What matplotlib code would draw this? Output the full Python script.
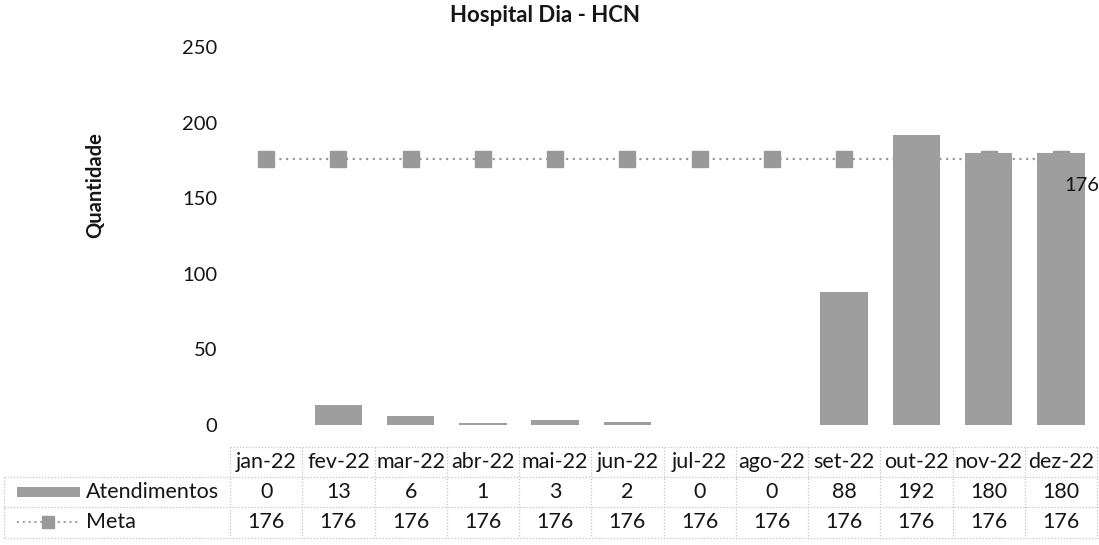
import matplotlib
matplotlib.use('Agg')
import matplotlib.pyplot as plt
from matplotlib.lines import Line2D
from matplotlib.patches import Rectangle

plt.rcParams['font.family'] = ['Lato', 'DejaVu Sans']

# dados
meses = ['jan-22', 'fev-22', 'mar-22', 'abr-22', 'mai-22', 'jun-22',
         'jul-22', 'ago-22', 'set-22', 'out-22', 'nov-22', 'dez-22']
atendimentos = [0, 13, 6, 1, 3, 2, 0, 0, 88, 192, 180, 180]
meta = [176] * 12

W, H = 1099, 545
fig = plt.figure(figsize=(W / 100, H / 100), dpi=100)
fig.patch.set_facecolor('white')

# área do gráfico (em pixels da imagem)
x0, x1 = 230, 1097
y_top, y_zero = 47, 425
ax = fig.add_axes([x0 / W, 1 - y_zero / H, (x1 - x0) / W, (y_zero - y_top) / H])

x = list(range(len(meses)))
cor_barra = '#9e9e9e'
cor_meta = '#999999'
cor_texto = '#151515'

ax.bar(x, atendimentos, width=0.66, color=cor_barra, zorder=3)
ax.plot(x, meta, linestyle=(0, (1, 2)), color=cor_meta, linewidth=1.6,
        marker='s', markersize=11, markerfacecolor=cor_meta,
        markeredgecolor=cor_meta, zorder=2)
ax.annotate(str(meta[-1]), (x[-1], meta[-1]), xytext=(15, -19),
            textcoords='offset points', ha='center', va='center',
            fontsize=14.5, color=cor_texto, zorder=4)

ax.set_xlim(-0.5, len(meses) - 0.5)
ax.set_ylim(0, 250)
ax.set_yticks([0, 50, 100, 150, 200, 250])
ax.tick_params(axis='y', length=0, pad=9, labelsize=14.5, labelcolor=cor_texto)
ax.set_xticks([])
for s in ax.spines.values():
    s.set_visible(False)

def fy(py):
    return 1 - py / H

def fx(px):
    return px / W

fig.text(fx(95), fy(185), 'Quantidade', rotation=90, ha='center', va='center',
         fontsize=14.5, fontweight='bold', color=cor_texto)
fig.text(fx(545), fy(16), 'Hospital Dia - HCN', ha='center', va='center',
         fontsize=16, fontweight='bold', color=cor_texto)

# tabela de dados
trans = ax.get_xaxis_transform()
def ay(py):
    return (y_zero - py) / (y_zero - y_top)

cor_grade = '#c4c4c4'
grade = dict(color=cor_grade, linewidth=0.9, linestyle=(0, (1, 1.5)))

# linhas horizontais
fig.add_artist(Line2D([fx(x0), fx(W)], [fy(447), fy(447)], **grade))
for py in (477, 507, 538):
    fig.add_artist(Line2D([fx(4), fx(W)], [fy(py), fy(py)], **grade))
# linhas verticais
for k in range(len(meses) + 1):
    ax.add_artist(Line2D([k - 0.5, k - 0.5], [ay(447), ay(538)],
                         transform=trans, clip_on=False, **grade))
fig.add_artist(Line2D([fx(4), fx(4)], [fy(477), fy(538)], **grade))

fs_tab = 15.5
for i, m in enumerate(meses):
    ax.text(i, ay(462), m, transform=trans, ha='center', va='center',
            fontsize=fs_tab, color=cor_texto, clip_on=False)
    ax.text(i, ay(492), str(atendimentos[i]), transform=trans, ha='center',
            va='center', fontsize=fs_tab, color=cor_texto, clip_on=False)
    ax.text(i, ay(522), str(meta[i]), transform=trans, ha='center',
            va='center', fontsize=fs_tab, color=cor_texto, clip_on=False)

# chaves da legenda
fig.add_artist(Rectangle((fx(17), fy(497)), fx(80) - fx(17), fy(487) - fy(497),
                         facecolor=cor_barra, edgecolor='none'))
fig.add_artist(Line2D([fx(17), fx(80)], [fy(522), fy(522)], color=cor_meta,
                      linewidth=1.4, linestyle=(0, (1, 2))))
fig.add_artist(Line2D([fx(48)], [fy(522)], marker='s', markersize=9,
                      color=cor_meta, linestyle='none'))
fig.text(fx(86), fy(492), 'Atendimentos', ha='left', va='center',
         fontsize=fs_tab, color=cor_texto)
fig.text(fx(86), fy(522), 'Meta', ha='left', va='center',
         fontsize=fs_tab, color=cor_texto)

fig.savefig('out.png', dpi=100, facecolor='white')
